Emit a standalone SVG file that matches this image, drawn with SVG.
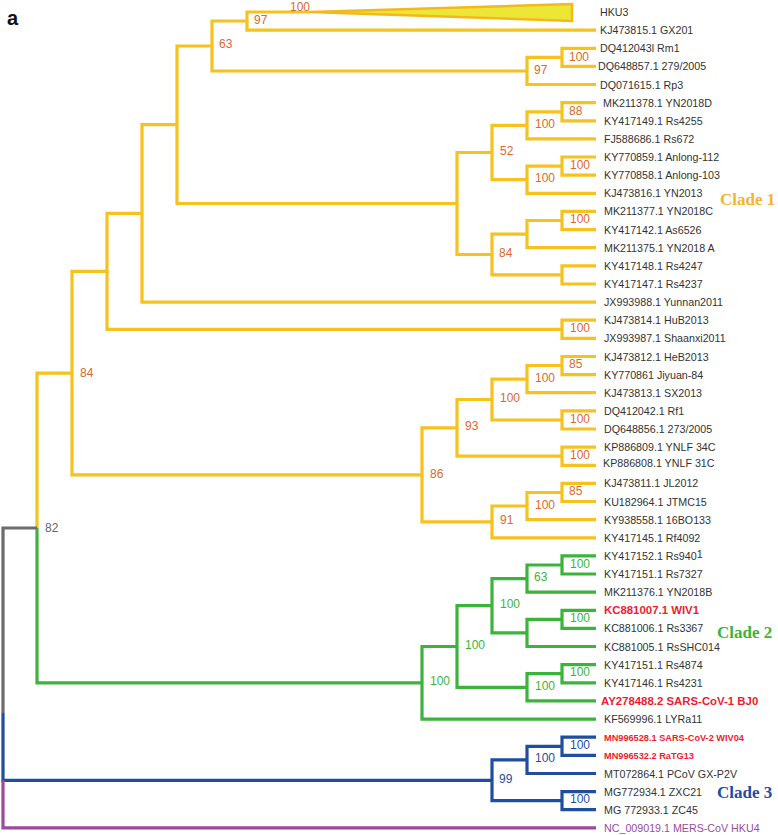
<svg xmlns="http://www.w3.org/2000/svg" width="778" height="835" viewBox="0 0 778 835">
<style>
.e{fill:none;stroke-width:3.2;stroke-linejoin:miter;stroke-linecap:butt}
.y{stroke:#f6c21e}.g{stroke:#3cb43c}.b{stroke:#1f4ea1}.p{stroke:#9c4a9c}.k{stroke:#6c6c6c}
.t{font-family:"Liberation Sans",Arial,sans-serif;font-size:10.7px;fill:#333}
.r{font-family:"Liberation Sans",Arial,sans-serif;font-weight:bold;fill:#ee1c2e}
.s{font-family:"Liberation Sans",Arial,sans-serif;font-size:12px}
.so{fill:#da6a2c}.sg{fill:#3cb43c}.sb{fill:#1f4ea1}.sk{fill:#666}
.c{font-family:"Liberation Serif","Times New Roman",serif;font-weight:bold;font-size:17px}
</style>
<rect width="778" height="835" fill="#fff"/>
<text x="7" y="25" font-family="Liberation Sans,Arial,sans-serif" font-weight="bold" font-size="20" fill="#111">a</text>
<g id="connectors">
<polygon points="310,12 572,4 572,21" fill="#ece634" stroke="#f4b81c" stroke-width="2.5" stroke-linejoin="miter"/>
<path class="e y" d="M310 12H247V30.1H596"/>
<path class="e y" d="M596 48.3H562V66.4H596"/>
<path class="e y" d="M562 57.4H527V84.5H596"/>
<path class="e y" d="M247 21H212V71H527"/>
<path class="e y" d="M596 102.7H562V120.8H596"/>
<path class="e y" d="M562 111.8H527V138.9H596"/>
<path class="e y" d="M596 157H562V175.2H596"/>
<path class="e y" d="M562 166.1H527V193.3H596"/>
<path class="e y" d="M527 125.3H492V179.7H527"/>
<path class="e y" d="M596 211.4H562V229.6H596"/>
<path class="e y" d="M562 220.5H527V247.7H596"/>
<path class="e y" d="M596 265.8H562V284H596"/>
<path class="e y" d="M527 234.1H492V274.9H562"/>
<path class="e y" d="M492 152.5H457V254.5H492"/>
<path class="e y" d="M212 46H177V203.5H457"/>
<path class="e y" d="M177 124.7H142V302.1H596"/>
<path class="e y" d="M596 320.2H562V338.3H596"/>
<path class="e y" d="M142 213.4H107V329.3H562"/>
<path class="e y" d="M596 356.5H562V374.6H596"/>
<path class="e y" d="M562 365.5H527V392.7H596"/>
<path class="e y" d="M596 410.9H562V429H596"/>
<path class="e y" d="M527 379.1H492V420H562"/>
<path class="e y" d="M596 447.1H562V465.3H596"/>
<path class="e y" d="M492 399.5H457V456.2H562"/>
<path class="e y" d="M596 483.4H562V501.5H596"/>
<path class="e y" d="M562 492.5H527V519.6H596"/>
<path class="e y" d="M527 506H492V537.8H596"/>
<path class="e y" d="M457 427.8H422V521.9H492"/>
<path class="e y" d="M107 271.3H72V474.9H422"/>
<path class="e y" d="M72 373.1H37V528"/>
<path class="e g" d="M37 528V682.8H422"/>
<path class="e g" d="M596 555.9H562V574H596"/>
<path class="e g" d="M562 565H527V592.2H596"/>
<path class="e g" d="M596 610.3H562V628.4H596"/>
<path class="e g" d="M562 619.3H527V646.5H596"/>
<path class="e g" d="M527 578.6H492V632.9H527"/>
<path class="e g" d="M596 664.7H562V682.8H596"/>
<path class="e g" d="M562 673.7H527V700.9H596"/>
<path class="e g" d="M492 605.7H457V687.3H527"/>
<path class="e g" d="M457 646.5H422V719.1H596"/>
<path class="e k" d="M37 528H3V713"/>
<path class="e b" d="M3 713V780.3H492"/>
<path class="e b" d="M596 737.2H562V755.3H596"/>
<path class="e b" d="M562 746.3H527V773.5H596"/>
<path class="e b" d="M596 791.6H562V809.7H596"/>
<path class="e b" d="M527 759.9H492V800.7H562"/>
<path class="e p" d="M3 780.3V827.9H596"/>
</g>
<g id="support">
<text class="s so" x="290" y="10.5">100</text>
<text class="s so" x="254" y="24">97</text>
<text class="s so" x="219" y="48">63</text>
<text class="s so" x="569" y="60.5">100</text>
<text class="s so" x="534" y="73.5">97</text>
<text class="s so" x="569" y="114.5">88</text>
<text class="s so" x="535" y="127.5">100</text>
<text class="s so" x="500" y="155">52</text>
<text class="s so" x="570" y="168.5">100</text>
<text class="s so" x="535" y="181.5">100</text>
<text class="s so" x="570" y="222.5">100</text>
<text class="s so" x="499" y="256.5">84</text>
<text class="s so" x="570" y="331.5">100</text>
<text class="s so" x="80" y="376.5">84</text>
<text class="s so" x="569" y="368">85</text>
<text class="s so" x="535" y="381.5">100</text>
<text class="s so" x="500" y="402">100</text>
<text class="s so" x="570" y="422.5">100</text>
<text class="s so" x="465" y="430">93</text>
<text class="s so" x="570" y="458.5">100</text>
<text class="s so" x="430" y="477.5">86</text>
<text class="s so" x="569" y="495">85</text>
<text class="s so" x="535" y="508.5">100</text>
<text class="s so" x="500" y="524">91</text>
<text class="s sk" x="45" y="531.5">82</text>
<text class="s sg" x="570" y="567.5">100</text>
<text class="s sg" x="534" y="581">63</text>
<text class="s sg" x="500" y="608">100</text>
<text class="s sg" x="570" y="622">100</text>
<text class="s sg" x="465" y="648.5">100</text>
<text class="s sg" x="570" y="676">100</text>
<text class="s sg" x="430" y="685">100</text>
<text class="s sg" x="535" y="690">100</text>
<text class="s sb" x="570" y="748.5">100</text>
<text class="s sb" x="535" y="762">100</text>
<text class="s sb" x="499" y="782.5">99</text>
<text class="s sb" x="570" y="802.5">100</text>
</g>
<g id="leaf-0"><text class="t" x="600" y="15.5">HKU3</text></g>
<g id="leaf-1"><text class="t" x="600" y="34">KJ473815.1 GX201</text></g>
<g id="leaf-2"><text class="t" x="600" y="52.3">DQ412043l Rm1</text></g>
<g id="leaf-3"><text class="t" x="598" y="70.4">DQ648857.1 279/2005</text></g>
<g id="leaf-4"><text class="t" x="600" y="89">DQ071615.1 Rp3</text></g>
<g id="leaf-5"><text class="t" x="603" y="106.7">MK211378.1 YN2018D</text></g>
<g id="leaf-6"><text class="t" x="604" y="124.8">KY417149.1 Rs4255</text></g>
<g id="leaf-7"><text class="t" x="604" y="142.9">FJ588686.1 Rs672</text></g>
<g id="leaf-8"><text class="t" x="604" y="161">KY770859.1 Anlong-112</text></g>
<g id="leaf-9"><text class="t" x="604" y="179.2">KY770858.1 Anlong-103</text></g>
<g id="leaf-10"><text class="t" x="604" y="197.3">KJ473816.1 YN2013</text></g>
<g id="leaf-11"><text class="t" x="604" y="215.4">MK211377.1 YN2018C</text></g>
<g id="leaf-12"><text class="t" x="604" y="233.6">KY417142.1 As6526</text></g>
<g id="leaf-13"><text class="t" x="604" y="251.7">MK211375.1 YN2018 A</text></g>
<g id="leaf-14"><text class="t" x="604" y="269.8">KY417148.1 Rs4247</text></g>
<g id="leaf-15"><text class="t" x="604" y="288">KY417147.1 Rs4237</text></g>
<g id="leaf-16"><text class="t" x="604" y="306.1">JX993988.1 Yunnan2011</text></g>
<g id="leaf-17"><text class="t" x="604" y="324.2">KJ473814.1 HuB2013</text></g>
<g id="leaf-18"><text class="t" x="604" y="342.3">JX993987.1 Shaanxi2011</text></g>
<g id="leaf-19"><text class="t" x="604" y="360.5">KJ473812.1 HeB2013</text></g>
<g id="leaf-20"><text class="t" x="604" y="378.6">KY770861 Jiyuan-84</text></g>
<g id="leaf-21"><text class="t" x="604" y="396.7">KJ473813.1 SX2013</text></g>
<g id="leaf-22"><text class="t" x="604" y="414.9">DQ412042.1 Rf1</text></g>
<g id="leaf-23"><text class="t" x="604" y="433">DQ648856.1 273/2005</text></g>
<g id="leaf-24"><text class="t" x="604" y="451.1">KP886809.1 YNLF 34C</text></g>
<g id="leaf-25"><text class="t" x="603" y="467.3">KP886808.1 YNLF 31C</text></g>
<g id="leaf-26"><text class="t" x="604" y="487.4">KJ473811.1 JL2012</text></g>
<g id="leaf-27"><text class="t" x="604" y="505.5">KU182964.1 JTMC15</text></g>
<g id="leaf-28"><text class="t" x="604" y="523.6">KY938558.1 16BO133</text></g>
<g id="leaf-29"><text class="t" x="604" y="541.8">KY417145.1 Rf4092</text></g>
<g id="leaf-30"><text class="t" x="604" y="559.9">KY417152.1 Rs940<tspan dy="-2">1</tspan></text></g>
<g id="leaf-31"><text class="t" x="604" y="578">KY417151.1 Rs7327</text></g>
<g id="leaf-32"><text class="t" x="604" y="596.2">MK211376.1 YN2018B</text></g>
<g id="leaf-33"><text class="r" x="604" y="614.3" font-size="11.4">KC881007.1 WIV1</text></g>
<g id="leaf-34"><text class="t" x="604" y="632.4">KC881006.1 Rs3367</text></g>
<g id="leaf-35"><text class="t" x="604" y="650.5">KC881005.1 RsSHC014</text></g>
<g id="leaf-36"><text class="t" x="604" y="668.7">KY417151.1 Rs4874</text></g>
<g id="leaf-37"><text class="t" x="604" y="686.8">KY417146.1 Rs4231</text></g>
<g id="leaf-38"><text class="r" x="601" y="705" font-size="11.4">AY278488.2 SARS-CoV-1 BJ0</text></g>
<g id="leaf-39"><text class="t" x="604" y="723.1">KF569996.1 LYRa11</text></g>
<g id="leaf-40"><text class="r" x="604" y="740.6" font-size="9.2">MN996528.1 SARS-CoV-2 WIV04</text></g>
<g id="leaf-41"><text class="r" x="604" y="758.7" font-size="9.2">MN996532.2 RaTG13</text></g>
<g id="leaf-42"><text class="t" x="604" y="777.5">MT072864.1 PCoV GX-P2V</text></g>
<g id="leaf-43"><text class="t" x="604" y="795.6">MG772934.1 ZXC21</text></g>
<g id="leaf-44"><text class="t" x="604" y="813.7">MG 772933.1 ZC45</text></g>
<g id="leaf-45"><text class="t" x="604" y="831.9" style="fill:#9c4a9c">NC_009019.1 MERS-CoV HKU4</text></g>
<g id="clade-1"><text class="c" x="720" y="204.5" fill="#f2b629">Clade 1</text></g>
<g id="clade-2"><text class="c" x="717" y="637.5" fill="#3cb43c">Clade 2</text></g>
<g id="clade-3"><text class="c" x="717" y="797.5" fill="#1f4ea1">Clade 3</text></g>
</svg>
